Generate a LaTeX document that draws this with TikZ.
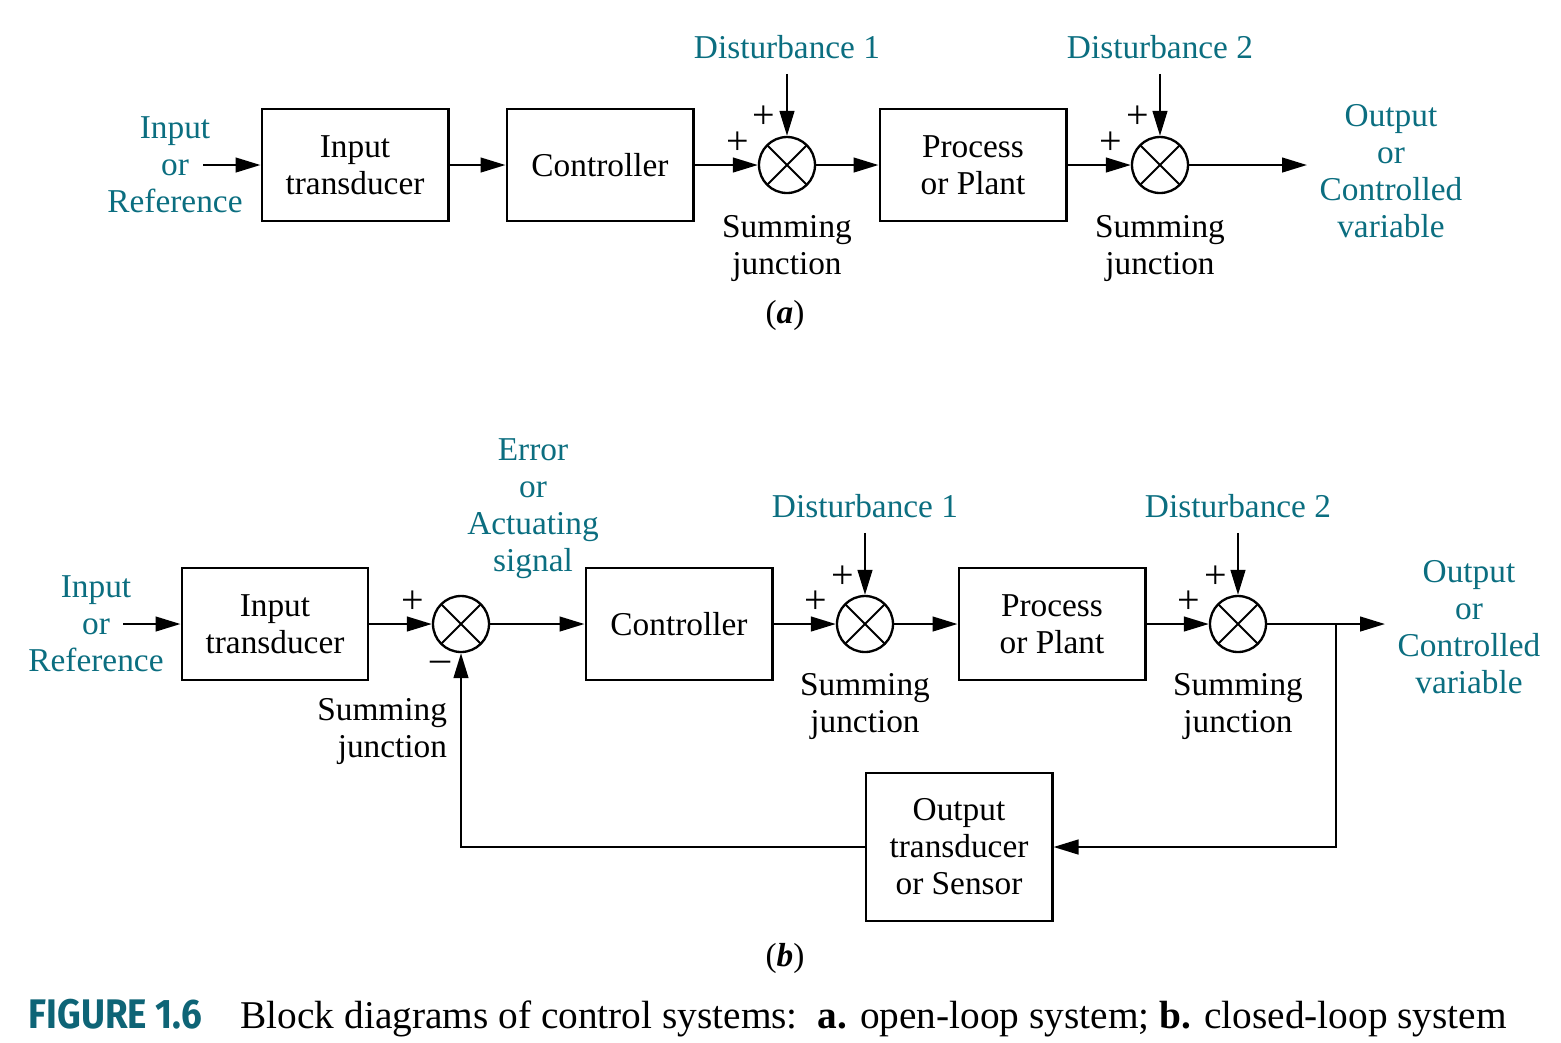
\documentclass[tikz,border=0pt]{standalone}
\usepackage{fontspec}
\setmainfont{Liberation Serif}
\newfontfamily\capsans[FakeStretch=0.89]{Fira Sans}
\usetikzlibrary{arrows.meta}
\definecolor{sigteal}{RGB}{11,110,128}
\definecolor{capteal}{RGB}{14,100,118}

\begin{document}
\begin{tikzpicture}[x=0.3pt,y=-0.3pt,
    font=\fontsize{10}{11.1}\selectfont,
    block/.style={draw,line width=0.7pt,minimum width=56pt,minimum height=33.6pt,align=center,inner sep=1pt},
    sumj/.style={draw,circle,line width=0.7pt,minimum size=16.8pt,inner sep=0pt,
      path picture={\draw[line width=0.6pt] (path picture bounding box.north west) -- (path picture bounding box.south east)
        (path picture bounding box.north east) -- (path picture bounding box.south west);}},
    sig/.style={text=sigteal,align=center},
    lbl/.style={align=center,inner sep=1pt},
    sgn/.style={inner sep=0pt,font=\fontsize{12}{12}\selectfont},
    wire/.style={line width=0.7pt,-{Triangle[length=7.5pt,width=4.4pt]}}]
    \useasboundingbox (0,0) rectangle (1561,1042);

    % (a) open loop
    \node[sig] (inlA) at (175,165) {Input\\or\\Reference};
    \coordinate (inA) at (203,165);
    \node[block] (itA) at (355,165) {Input\\transducer};
    \node[block] (ctA) at (600,165) {Controller};
    \node[sumj] (s1A) at (787,165) {};
    \node[block] (plA) at (973,165) {Process\\or Plant};
    \node[sumj] (s2A) at (1160,165) {};
    \coordinate (outA) at (1307,165);
    \node[sig] (outlA) at (1391,171) {Output\\or\\Controlled\\variable};
    \node[sig] (d1A) at (787,47) {Disturbance 1};
    \node[sig] (d2A) at (1160,47) {Disturbance 2};
    \node[sgn] (p1A) at (764,117) {+};
    \node[sgn] (p2A) at (738,143) {+};
    \node[sgn] (p3A) at (1138,117) {+};
    \node[sgn] (p4A) at (1111,143) {+};
    \node[lbl] (j1A) at (787,248) {Summing\\junction};
    \node[lbl] (j2A) at (1160,248) {Summing\\junction};
    \node[lbl] (capA) at (785,315) {(\textbf{\textit{a}})};

    \draw[wire] (inA) -- (itA);
    \draw[wire] (itA) -- (ctA);
    \draw[wire] (ctA) -- (s1A);
    \draw[wire] (s1A) -- (plA);
    \draw[wire] (plA) -- (s2A);
    \draw[wire] (s2A) -- (outA);
    \draw[wire,shorten <=1pt] (d1A) -- (s1A);
    \draw[wire,shorten <=1pt] (d2A) -- (s2A);

    % (b) closed loop
    \node[sig] (inlB) at (96,624) {Input\\or\\Reference};
    \coordinate (inB) at (123,624);
    \node[block] (itB) at (275,624) {Input\\transducer};
    \node[sumj] (s0B) at (461,624) {};
    \node[block] (ctB) at (679,624) {Controller};
    \node[sumj] (s1B) at (865,624) {};
    \node[block] (plB) at (1052,624) {Process\\or Plant};
    \node[sumj] (s2B) at (1238,624) {};
    \coordinate (brB) at (1336,624);
    \coordinate (outB) at (1385,624);
    \node[block,minimum height=44.4pt] (osB) at (959,847) {Output\\transducer\\or Sensor};
    \node[sig] (outlB) at (1469,627) {Output\\or\\Controlled\\variable};
    \node[sig] (errB) at (533,509) {Error\\or\\Actuating\\signal};
    \node[sig] (d1B) at (865,506) {Disturbance 1};
    \node[sig] (d2B) at (1238,506) {Disturbance 2};
    \node[sgn] (p0B) at (413,602) {+};
    \node[sgn] (m0B) at (440,666) {\textendash};
    \node[sgn] (p1B) at (843,577) {+};
    \node[sgn] (p2B) at (816,602) {+};
    \node[sgn] (p3B) at (1216,577) {+};
    \node[sgn] (p4B) at (1189,602) {+};
    \node[lbl,align=right,anchor=east] (j0B) at (451,731) {Summing\\junction};
    \node[lbl] (j1B) at (865,706) {Summing\\junction};
    \node[lbl] (j2B) at (1238,706) {Summing\\junction};
    \node[lbl] (capB) at (785,958) {(\textbf{\textit{b}})};

    \draw[wire] (inB) -- (itB);
    \draw[wire] (itB) -- (s0B);
    \draw[wire] (s0B) -- (ctB);
    \draw[wire] (ctB) -- (s1B);
    \draw[wire] (s1B) -- (plB);
    \draw[wire] (plB) -- (s2B);
    \draw[wire] (s2B) -- (outB);
    \draw[wire] (brB) |- (osB);
    \draw[wire] (osB) -| (s0B);
    \draw[wire,shorten <=1pt] (d1B) -- (s1B);
    \draw[wire,shorten <=1pt] (d2B) -- (s2B);

    % caption
    \node[anchor=base west,inner sep=0pt,text=capteal,font=\capsans\bfseries\fontsize{12.4}{14}\selectfont] (fig) at (28,1028) {FIGURE 1.6};
    \node[anchor=base west,inner sep=0pt,font=\fontsize{11.8}{14}\selectfont] (cap) at (240,1028)
      {Block diagrams of control systems:\ \ \textbf{a.} open-loop system; \textbf{b.} closed-loop system};
\end{tikzpicture}
\end{document}
